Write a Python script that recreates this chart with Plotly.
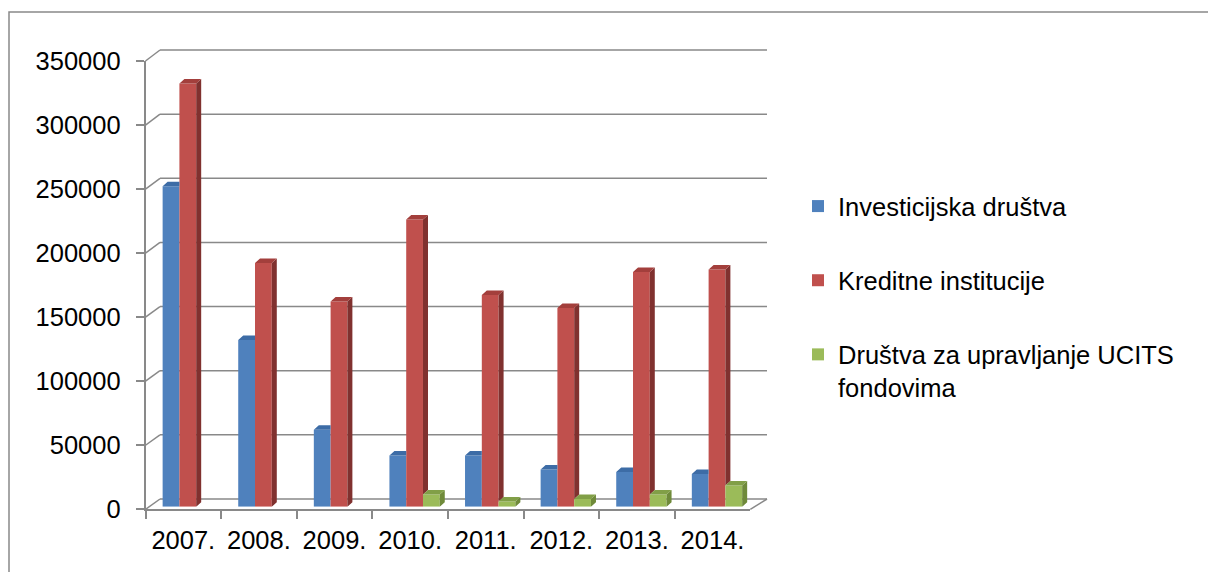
import plotly.graph_objects as go

# ---------------- data ----------------
years = ["2007.", "2008.", "2009.", "2010.", "2011.", "2012.", "2013.", "2014."]
series_names = ["Investicijska društva", "Kreditne institucije",
                "Društva za upravljanje UCITS<br>fondovima"]
investicijska = [250000, 130000, 60000, 40000, 40000, 29000, 27000, 25500]
kreditne = [330000, 190000, 160000, 224000, 165000, 155000, 183000, 185000]
ucits = [None, None, None, 9500, 4000, 6000, 9500, 16500]
y_ticks = [0, 50000, 100000, 150000, 200000, 250000, 300000, 350000]

# ---------------- style ----------------
W, H = 1208, 572
YMAX = 350000
front_cols = ["#4F81BD", "#C0504D", "#9BBB59"]
side_cols = ["#35608F", "#80312F", "#6F8A3A"]
cap_cols = ["#3D6CA6", "#A33F3C", "#819F47"]
grid_col = "#898989"
FONT = "Arial, Liberation Sans, sans-serif"
FS = 25.5

# geometry (pixels)
BACK = dict(l=160, r=767, t=50, b=499)
BARS = dict(l=150, r=754.8, t=57.9, b=506.7)
FRONT = dict(l=145.5, r=750.3, t=61, b=509.3)
DX_PX, DY_PX = 5.0, 4.5


def px(x):
    return x / W


def py(y):
    return 1 - y / H


def dom_x(g):
    return [px(g["l"]), px(g["r"])]


def dom_y(g):
    return [py(g["b"]), py(g["t"])]


fig = go.Figure()

series = [investicijska, kreditne, ucits]
width = 0.222
offsets = [-0.333, -0.111, 0.111]
xs = list(range(len(years)))

cat_px = (BARS["r"] - BARS["l"]) / len(years)
dx = DX_PX / cat_px
dy = DY_PX * YMAX / (BARS["b"] - BARS["t"])

for s, vals in enumerate(series):
    fig.add_trace(go.Bar(
        x=xs, y=vals, xaxis="x2", yaxis="y2", width=width, offset=offsets[s],
        marker=dict(color=front_cols[s], line=dict(width=0)),
        name=series_names[s], legendgroup=f"g{s}", showlegend=True,
    ))

# 3D faces (side and top) computed from data
for s, vals in enumerate(series):
    side_x, side_y, cap_x, cap_y = [], [], [], []
    for i, v in enumerate(vals):
        if v is None:
            continue
        xl = i + offsets[s]
        xr = xl + width
        hn = 0
        if s + 1 < len(series) and series[s + 1][i] is not None:
            hn = series[s + 1][i]
        if v > hn:
            side_x += [xr, xr, xr + dx, xr + dx, xr, None]
            side_y += [hn, v, v + dy, hn + dy, hn, None]
            cap_x += [xl, xl + dx, xr + dx, xr, xl, None]
            cap_y += [v, v + dy, v + dy, v, v, None]
        else:
            cap_x += [xl, xl + dx, xr, xr, xl, None]
            cap_y += [v, v + dy, v + dy, v, v, None]
    if side_x:
        fig.add_trace(go.Scatter(x=side_x, y=side_y, xaxis="x2", yaxis="y2",
                                 mode="lines", fill="toself", fillcolor=side_cols[s],
                                 line=dict(width=0, color=side_cols[s]),
                                 showlegend=False, hoverinfo="skip"))
    if cap_x:
        fig.add_trace(go.Scatter(x=cap_x, y=cap_y, xaxis="x2", yaxis="y2",
                                 mode="lines", fill="toself", fillcolor=cap_cols[s],
                                 line=dict(width=0, color=cap_cols[s]),
                                 showlegend=False, hoverinfo="skip"))

fig.add_trace(go.Scatter(x=years, y=[0] * len(years), xaxis="x3", yaxis="y3",
                         mode="markers", marker=dict(opacity=0),
                         showlegend=False, hoverinfo="skip"))

hidden = dict(showgrid=False, zeroline=False, showline=False,
              showticklabels=False, ticks="", automargin=False)

fig.update_layout(
    width=W, height=H,
    margin=dict(l=0, r=0, t=0, b=0, autoexpand=False),
    paper_bgcolor="white", plot_bgcolor="rgba(0,0,0,0)",
    font=dict(family=FONT, size=FS, color="#000000"),
    barmode="overlay",
    showlegend=True,
    legend=dict(x=px(798), y=py(183), xanchor="left", yanchor="top",
                font=dict(family=FONT, size=FS, color="#000000"),
                tracegroupgap=38, valign="top", bgcolor="rgba(0,0,0,0)",
                itemclick=False, itemdoubleclick=False),
    # bars plane
    xaxis2=dict(domain=dom_x(BARS), range=[-0.5, len(years) - 0.5], anchor="y2", **hidden),
    yaxis2=dict(domain=dom_y(BARS), range=[0, YMAX], anchor="x2", **hidden),
    # front axes
    xaxis3=dict(domain=dom_x(FRONT), type="category", categoryarray=years,
                categoryorder="array", range=[-0.5, len(years) - 0.5], anchor="y3",
                showgrid=False, zeroline=False, showline=True, linecolor=grid_col,
                linewidth=1.5, ticks="outside", ticklen=8, tickcolor=grid_col,
                tickwidth=1.5, tickson="boundaries", ticklabelstandoff=7,
                automargin=False,
                tickfont=dict(family=FONT, size=FS, color="#000000")),
    yaxis3=dict(domain=dom_y(FRONT), range=[0, YMAX], anchor="x3",
                tickvals=y_ticks, ticktext=[str(v) for v in y_ticks],
                showgrid=False, zeroline=False, showline=True, linecolor=grid_col,
                linewidth=1.5, ticks="outside", ticklen=8, tickcolor=grid_col,
                tickwidth=1.5, ticklabelstandoff=10, automargin=False,
                tickfont=dict(family=FONT, size=FS, color="#000000")),
)

shapes = []
for v in y_ticks:
    yf = FRONT["b"] - v / YMAX * (FRONT["b"] - FRONT["t"])
    yb = BACK["b"] - v / YMAX * (BACK["b"] - BACK["t"])
    # back wall gridline
    shapes.append(dict(type="line", xref="paper", yref="paper",
                       x0=px(BACK["l"]), y0=py(yb), x1=px(BACK["r"]), y1=py(yb),
                       line=dict(color=grid_col, width=1.5), layer="below"))
    # depth connector from front axis to back wall
    shapes.append(dict(type="line", xref="paper", yref="paper",
                       x0=px(FRONT["l"]), y0=py(yf), x1=px(BACK["l"]), y1=py(yb),
                       line=dict(color=grid_col, width=1.5), layer="below"))
shapes.append(dict(type="line", xref="paper", yref="paper",
                   x0=px(FRONT["r"]), y0=py(FRONT["b"]), x1=px(BACK["r"]), y1=py(BACK["b"]),
                   line=dict(color=grid_col, width=1.5), layer="below"))
# chart area border
shapes.append(dict(type="rect", xref="paper", yref="paper",
                   x0=px(9), y0=py(12), x1=px(W + 10), y1=py(H + 10),
                   line=dict(color=grid_col, width=1.5), layer="below"))
fig.update_layout(shapes=shapes)

fig.write_html("out.html", config={"displayModeBar": False},
               post_script="document.body.style.margin='0';")
